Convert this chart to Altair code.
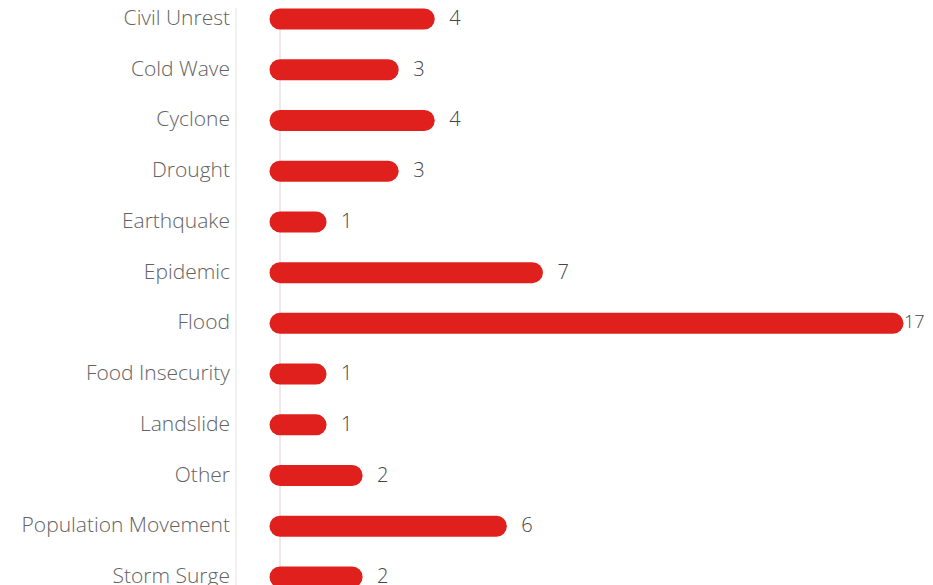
import altair as alt
import pandas as pd

categories = ["Civil Unrest", "Cold Wave", "Cyclone", "Drought", "Earthquake", "Epidemic",
              "Flood", "Food Insecurity", "Landslide", "Other", "Population Movement", "Storm Surge"]
counts = [4, 3, 4, 3, 1, 7, 17, 1, 1, 2, 6, 2]

df = pd.DataFrame({"category": categories, "count": counts})

y = alt.Y("category:N", sort=categories,
          scale=alt.Scale(type="point", padding=0.197), axis=None)
x = alt.X("count:Q", scale=alt.Scale(domain=[0, 17], nice=False, zero=True), axis=None)

base = alt.Chart(df)

zero_line = base.mark_rule(color="#f1e6e6", strokeWidth=1).encode(
    x=alt.value(0), y=alt.value(-10), y2=alt.value(600))
sep_line = base.mark_rule(color="#f0f0f0", strokeWidth=1).encode(
    x=alt.value(-44), y=alt.value(-10), y2=alt.value(600))

bars = base.mark_rule(color="#e0201c", strokeWidth=21, strokeCap="round").encode(
    y=y, x=alt.X("zero:Q", scale=alt.Scale(domain=[0, 17], nice=False), axis=None),
    x2="count:Q").transform_calculate(zero="0")

values = base.mark_text(align="left", baseline="middle", dx=25, font="Open Sans",
                        fontSize=20, fontWeight=300, color="#444444").encode(
    y=y, x=x, text="count:Q").transform_filter("datum.count < 17")

values_max = base.mark_text(align="left", baseline="middle", dx=11, font="Open Sans",
                            fontSize=18, fontWeight=300, color="#444444").encode(
    y=y, x=x, text="count:Q").transform_filter("datum.count >= 17")

labels = base.mark_text(align="right", baseline="middle", font="Open Sans",
                        fontSize=21, fontWeight=300, color="#636363").encode(
    y=y, x=alt.value(-50), text="category:N")

chart = alt.layer(zero_line, sep_line, bars, values, values_max, labels).properties(
    width=613, height=578,
    padding={"left": 272, "top": 1, "right": 32, "bottom": 0},
    autosize=alt.AutoSizeParams(type="none"),
).configure_view(stroke=None)

chart.save("out.html", embed_options={"renderer": "svg", "actions": False})
